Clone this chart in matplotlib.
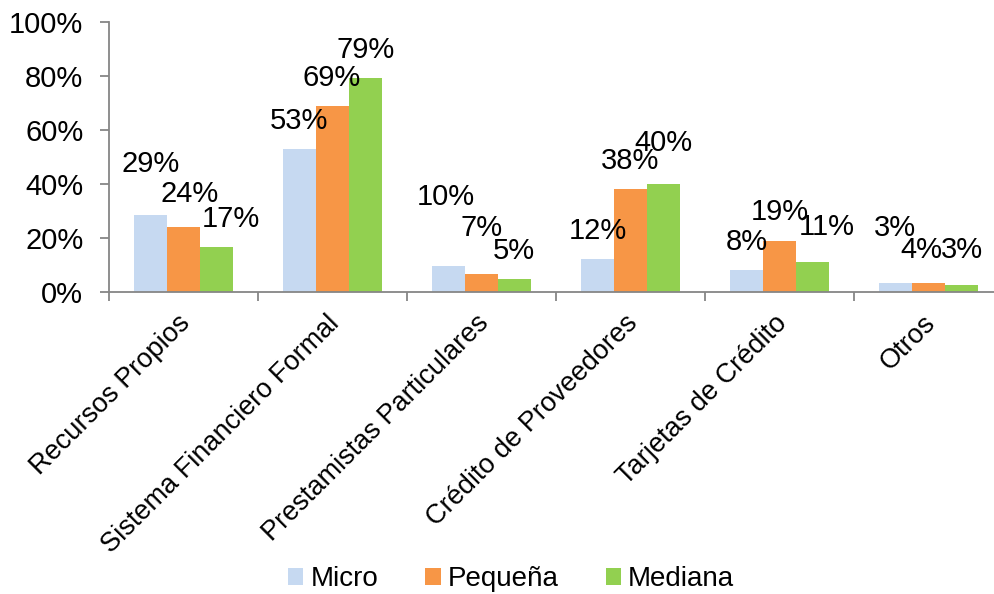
import numpy as np
import matplotlib.pyplot as plt
from matplotlib.ticker import PercentFormatter
from matplotlib.transforms import ScaledTranslation

plt.rcParams["font.family"] = ["Liberation Sans", "DejaVu Sans"]

categories = ["Recursos Propios", "Sistema Financiero Formal", "Prestamistas Particulares",
              "Crédito de Proveedores", "Tarjetas de Crédito", "Otros"]
series = ["Micro", "Pequeña", "Mediana"]
micro = [0.285, 0.53, 0.097, 0.122, 0.080, 0.032]
pequena = [0.240, 0.688, 0.067, 0.380, 0.190, 0.035]
mediana = [0.167, 0.791, 0.048, 0.401, 0.111, 0.026]
micro_labels = ["29%", "53%", "10%", "12%", "8%", "3%"]
pequena_labels = ["24%", "69%", "7%", "38%", "19%", "4%"]
mediana_labels = ["17%", "79%", "5%", "40%", "11%", "3%"]
colors = ["#C6D9F1", "#F79646", "#92D050"]

# label offsets (pixels) from top of each bar, as placed in the original
label_dx = [[0, 0, -3, 0, 0, 0], [6, -1, 0, 0, 0, -7], [14, 0, -1, 0, 14, 0]]
label_dy = [[51, 28, 69, 28, 28, 55], [33, 28, 46, 28, 29, 33], [28, 28, 28, 41, 35, 35]]

fs = 21
fig = plt.figure(figsize=(9.94, 5.94), dpi=100)
ax = fig.add_axes([109 / 994, 1 - 292 / 594, 894 / 994, 270 / 594])

x = np.arange(len(categories))
w = 0.222
values = [micro, pequena, mediana]
labels = [micro_labels, pequena_labels, mediana_labels]
for i, (vals, labs) in enumerate(zip(values, labels)):
    pos = x + (i - 1) * w
    ax.bar(pos, vals, width=w, color=colors[i], label=series[i], zorder=2)
    for j in range(len(vals)):
        ax.annotate(labs[j], (pos[j], vals[j]), xytext=(label_dx[i][j], label_dy[i][j]),
                    textcoords="offset pixels", ha="center", va="center", fontsize=fs)

ax.set_xlim(-0.5, len(categories) - 0.5)
ax.set_ylim(0, 1)
ax.set_yticks(np.arange(0, 1.01, 0.2))
ax.yaxis.set_major_formatter(PercentFormatter(1.0, decimals=0))
ax.set_xticks(np.arange(-0.5, len(categories), 1.0))
ax.set_xticklabels([])
ax.set_xticks(x, minor=True)
ax.set_xticklabels(categories, minor=True, rotation=45, ha="right",
                   rotation_mode="anchor", fontsize=19.5)
ax.tick_params(axis="x", which="minor", length=0, pad=13)
ax.tick_params(axis="x", which="major", length=6.5, width=1.3, color="#868686", direction="out")
ax.tick_params(axis="y", length=6.5, width=1.3, color="#868686", labelsize=fs, pad=12)
shift = ScaledTranslation(-6 / 100, 0, fig.dpi_scale_trans)
for lab in ax.get_xticklabels(minor=True):
    lab.set_transform(lab.get_transform() + shift)

for side in ["top", "right"]:
    ax.spines[side].set_visible(False)
for side in ["left", "bottom"]:
    ax.spines[side].set_color("#868686")
    ax.spines[side].set_linewidth(1.3)

fig.legend(loc="center", bbox_to_anchor=(511 / 994, 1 - 579 / 594), ncol=3, frameon=False,
           fontsize=20, handlelength=0.55, handleheight=0.55, handletextpad=0.25,
           columnspacing=1.7)

fig.savefig("out.png", dpi=100)
